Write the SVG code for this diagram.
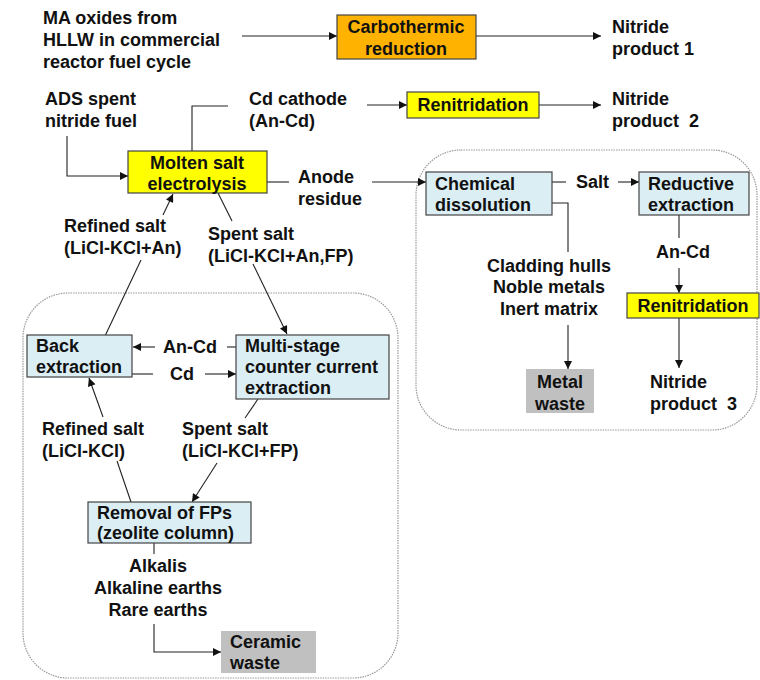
<svg xmlns="http://www.w3.org/2000/svg" width="760" height="680" viewBox="0 0 760 680">
<defs>
<marker id="ah" viewBox="0 0 10 10" refX="10" refY="5" markerWidth="9" markerHeight="8" markerUnits="userSpaceOnUse" orient="auto"><path d="M0,0 L10,5 L0,10 z" fill="#111"/></marker>
<style>
text{font-family:"Liberation Sans",Arial,sans-serif;font-weight:bold;font-size:18px;fill:#111}
.c{text-anchor:middle}
.box{stroke:#444;stroke-width:1.2}
.ln{stroke:#222;stroke-width:1.1;fill:none}
.ar{stroke:#222;stroke-width:1.1;fill:none;marker-end:url(#ah)}
.grp{fill:none;stroke:#999;stroke-width:1.2;stroke-dasharray:1.5 1}
.or{fill:#FFB300}.ye{fill:#FFFF00}.bl{fill:#DBEEF4}.gr{fill:#C0C0C0}
</style>
</defs>
<rect width="760" height="680" fill="#fff"/>
<g id="groups">
<rect class="grp" x="23" y="293" width="375" height="385" rx="45"/>
<rect class="grp" x="416" y="150" width="341" height="280" rx="45"/>
</g>
<g id="connectors">
<line class="ar" x1="242" y1="36" x2="337" y2="36"/>
<line class="ar" x1="476" y1="36" x2="601" y2="36"/>
<polyline class="ln" points="228,106 192,106 192,151"/>
<line class="ar" x1="367" y1="105" x2="407" y2="105"/>
<line class="ar" x1="539" y1="105" x2="601" y2="105"/>
<polyline class="ar" points="67,136 67,176 128,176"/>
<line class="ln" x1="267" y1="182" x2="289" y2="182"/>
<line class="ar" x1="372" y1="182" x2="426" y2="182"/>
<line class="ln" x1="141" y1="260" x2="105" y2="336"/>
<line class="ar" x1="163" y1="215" x2="173" y2="194"/>
<line class="ln" x1="218" y1="193" x2="232" y2="221"/>
<line class="ar" x1="253" y1="264" x2="287" y2="334"/>
<line class="ln" x1="552" y1="182" x2="566" y2="182"/>
<line class="ar" x1="618" y1="182" x2="639" y2="182"/>
<polyline class="ln" points="552,203 568,203 568,252"/>
<line class="ar" x1="568" y1="325" x2="568" y2="369"/>
<line class="ln" x1="679" y1="215" x2="679" y2="238"/>
<line class="ar" x1="679" y1="268" x2="679" y2="293"/>
<line class="ar" x1="679" y1="318" x2="679" y2="368"/>
<line class="ln" x1="236" y1="347" x2="227" y2="347"/>
<line class="ar" x1="155" y1="347" x2="133" y2="347"/>
<line class="ln" x1="132" y1="374" x2="153" y2="374"/>
<line class="ar" x1="205" y1="374" x2="236" y2="374"/>
<line class="ln" x1="258" y1="399" x2="245" y2="418"/>
<line class="ar" x1="217" y1="463" x2="192" y2="502"/>
<line class="ln" x1="131" y1="502" x2="117" y2="461"/>
<line class="ar" x1="103" y1="417" x2="89" y2="378"/>
<line class="ln" x1="154" y1="543" x2="154" y2="554"/>
<polyline class="ar" points="154,624 154,652 221,652"/>
</g>
<g id="ma-oxides">
<text x="43" y="24">MA oxides from</text>
<text x="43" y="46">HLLW in commercial</text>
<text x="43" y="68">reactor fuel cycle</text>
</g>
<g id="carbothermic">
<rect class="box or" x="337" y="15" width="139" height="44"/>
<text class="c" x="406" y="33">Carbothermic</text>
<text class="c" x="406" y="55">reduction</text>
</g>
<g id="nitride1">
<text x="612" y="33">Nitride</text>
<text x="612" y="55">product 1</text>
</g>
<g id="ads">
<text x="45" y="105">ADS spent</text>
<text x="45" y="127">nitride fuel</text>
</g>
<g id="cd-cathode">
<text x="249" y="105">Cd cathode</text>
<text x="249" y="127">(An-Cd)</text>
</g>
<g id="renitridation1">
<rect class="box ye" x="407" y="92" width="132" height="26"/>
<text class="c" x="473" y="111">Renitridation</text>
</g>
<g id="nitride2">
<text x="612" y="105">Nitride</text>
<text x="612" y="127" xml:space="preserve">product  2</text>
</g>
<g id="molten">
<rect class="box ye" x="128" y="151" width="139" height="42"/>
<text class="c" x="197" y="169">Molten salt</text>
<text class="c" x="197" y="190">electrolysis</text>
</g>
<g id="anode">
<text x="298" y="183">Anode</text>
<text x="298" y="205">residue</text>
</g>
<g id="refined-an">
<text x="64" y="232">Refined salt</text>
<text x="64" y="254">(LiCl-KCl+An)</text>
</g>
<g id="spent-anfp">
<text x="208" y="240">Spent salt</text>
<text x="208" y="262">(LiCl-KCl+An,FP)</text>
</g>
<g id="chemical">
<rect class="box bl" x="426" y="172" width="126" height="43"/>
<text x="435" y="190">Chemical</text>
<text x="435" y="211">dissolution</text>
</g>
<g id="salt"><text x="576" y="188">Salt</text></g>
<g id="reductive">
<rect class="box bl" x="639" y="172" width="110" height="43"/>
<text x="648" y="190">Reductive</text>
<text x="648" y="211">extraction</text>
</g>
<g id="ancd-right"><text x="656" y="258">An-Cd</text></g>
<g id="cladding">
<text class="c" x="549" y="272">Cladding hulls</text>
<text class="c" x="549" y="293">Noble metals</text>
<text class="c" x="549" y="315">Inert matrix</text>
</g>
<g id="renitridation2">
<rect class="box ye" x="627" y="293" width="132" height="25"/>
<text class="c" x="693" y="312">Renitridation</text>
</g>
<g id="metal-waste">
<rect x="526" y="369" width="68" height="44" class="gr"/>
<text class="c" x="560" y="388">Metal</text>
<text class="c" x="560" y="410">waste</text>
</g>
<g id="nitride3">
<text x="650" y="388">Nitride</text>
<text x="650" y="410" xml:space="preserve">product  3</text>
</g>
<g id="back-extraction">
<rect class="box bl" x="27" y="335" width="105" height="42"/>
<text x="36" y="352">Back</text>
<text x="36" y="373">extraction</text>
</g>
<g id="ancd-left"><text x="163" y="353">An-Cd</text></g>
<g id="cd"><text x="170" y="380">Cd</text></g>
<g id="multistage">
<rect class="box bl" x="236" y="335" width="153" height="64"/>
<text x="245" y="352">Multi-stage</text>
<text x="245" y="373">counter current</text>
<text x="245" y="394">extraction</text>
</g>
<g id="refined-licl">
<text x="42" y="435">Refined salt</text>
<text x="42" y="457">(LiCl-KCl)</text>
</g>
<g id="spent-fp">
<text x="182" y="435">Spent salt</text>
<text x="182" y="457">(LiCl-KCl+FP)</text>
</g>
<g id="removal">
<rect class="box bl" x="88" y="502" width="163" height="41"/>
<text x="97" y="519">Removal of FPs</text>
<text x="97" y="539">(zeolite column)</text>
</g>
<g id="alkalis">
<text class="c" x="158" y="572">Alkalis</text>
<text class="c" x="158" y="594">Alkaline earths</text>
<text class="c" x="158" y="616">Rare earths</text>
</g>
<g id="ceramic-waste">
<rect x="221" y="631" width="95" height="42" class="gr"/>
<text x="230" y="648">Ceramic</text>
<text x="230" y="669">waste</text>
</g>
</svg>
